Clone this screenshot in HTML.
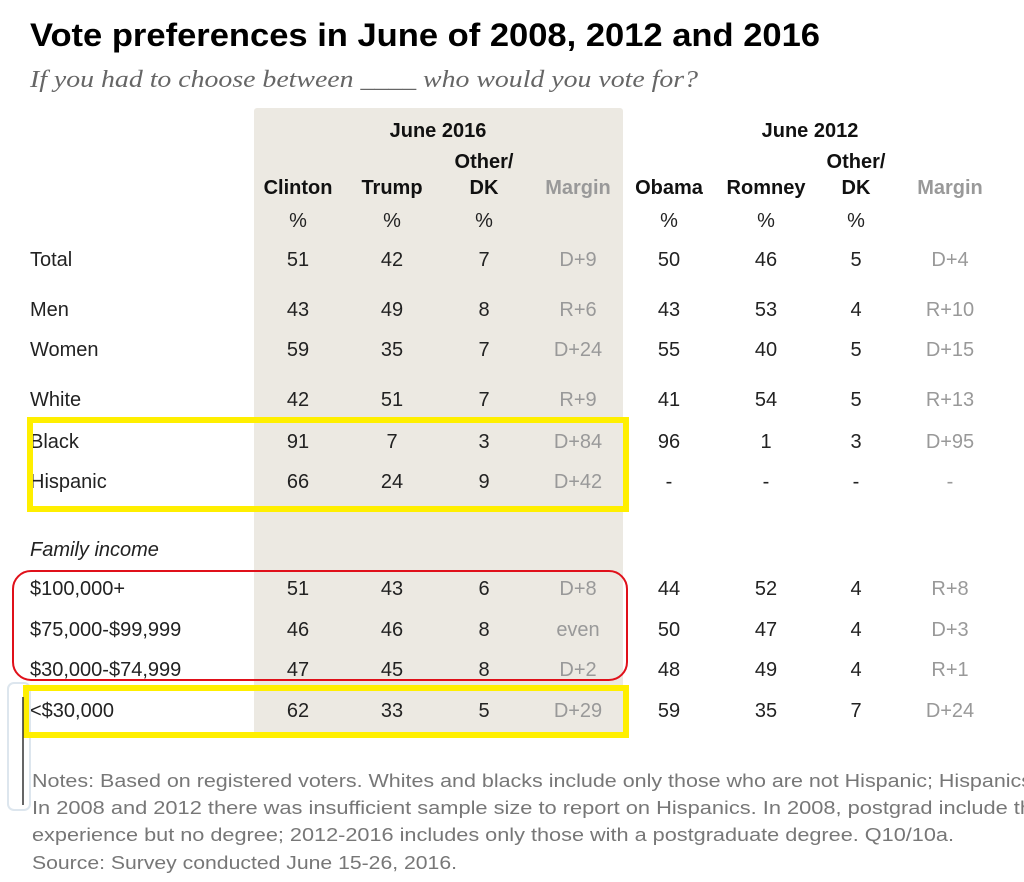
<!DOCTYPE html>
<html><head><meta charset="utf-8"><style>
html,body{margin:0;padding:0;background:#fff;}
svg{display:block;}
text{font-family:"Liberation Sans",sans-serif;}
.v{font-size:20px;fill:#222;text-anchor:middle;}
.m{font-size:20px;fill:#999;text-anchor:middle;}
.l{font-size:20px;fill:#222;}
.h{font-size:20px;font-weight:bold;fill:#111;text-anchor:middle;}
.n{font-size:18px;fill:#777;}
.sub{font-family:"Liberation Serif",serif;font-size:24px;font-style:italic;fill:#666;}
</style></head><body>
<svg width="1024" height="882" viewBox="0 0 1024 882">
<rect x="254" y="108" width="369" height="630" rx="3" fill="#ece9e2"/>
<rect x="8" y="683" width="22" height="127" rx="6" fill="none" stroke="#dde6ee" stroke-width="2"/>
<text x="30" y="46" font-size="32" font-weight="bold" fill="#000" textLength="790" lengthAdjust="spacingAndGlyphs">Vote preferences in June of 2008, 2012 and 2016</text>
<text class="sub" x="30" y="87" textLength="668" lengthAdjust="spacingAndGlyphs">If you had to choose between ____ who would you vote for?</text>
<text class="h" x="438" y="137">June 2016</text>
<text class="h" x="810" y="137">June 2012</text>
<text class="h" x="484" y="168">Other/</text>
<text class="h" x="856" y="168">Other/</text>
<text class="h" x="298" y="194">Clinton</text>
<text class="h" x="392" y="194">Trump</text>
<text class="h" x="484" y="194">DK</text>
<text class="h" x="578" y="194" style="fill:#999">Margin</text>
<text class="h" x="669" y="194">Obama</text>
<text class="h" x="766" y="194">Romney</text>
<text class="h" x="856" y="194">DK</text>
<text class="h" x="950" y="194" style="fill:#999">Margin</text>
<text class="v" x="298" y="227">%</text><text class="v" x="392" y="227">%</text><text class="v" x="484" y="227">%</text>
<text class="v" x="669" y="227">%</text><text class="v" x="766" y="227">%</text><text class="v" x="856" y="227">%</text>
<text class="l" x="30" y="266">Total</text>
<text class="v" x="298" y="266">51</text><text class="v" x="392" y="266">42</text><text class="v" x="484" y="266">7</text><text class="m" x="578" y="266">D+9</text>
<text class="v" x="669" y="266">50</text><text class="v" x="766" y="266">46</text><text class="v" x="856" y="266">5</text><text class="m" x="950" y="266">D+4</text>
<text class="l" x="30" y="316">Men</text>
<text class="v" x="298" y="316">43</text><text class="v" x="392" y="316">49</text><text class="v" x="484" y="316">8</text><text class="m" x="578" y="316">R+6</text>
<text class="v" x="669" y="316">43</text><text class="v" x="766" y="316">53</text><text class="v" x="856" y="316">4</text><text class="m" x="950" y="316">R+10</text>
<text class="l" x="30" y="356">Women</text>
<text class="v" x="298" y="356">59</text><text class="v" x="392" y="356">35</text><text class="v" x="484" y="356">7</text><text class="m" x="578" y="356">D+24</text>
<text class="v" x="669" y="356">55</text><text class="v" x="766" y="356">40</text><text class="v" x="856" y="356">5</text><text class="m" x="950" y="356">D+15</text>
<text class="l" x="30" y="406">White</text>
<text class="v" x="298" y="406">42</text><text class="v" x="392" y="406">51</text><text class="v" x="484" y="406">7</text><text class="m" x="578" y="406">R+9</text>
<text class="v" x="669" y="406">41</text><text class="v" x="766" y="406">54</text><text class="v" x="856" y="406">5</text><text class="m" x="950" y="406">R+13</text>
<text class="l" x="30" y="448">Black</text>
<text class="v" x="298" y="448">91</text><text class="v" x="392" y="448">7</text><text class="v" x="484" y="448">3</text><text class="m" x="578" y="448">D+84</text>
<text class="v" x="669" y="448">96</text><text class="v" x="766" y="448">1</text><text class="v" x="856" y="448">3</text><text class="m" x="950" y="448">D+95</text>
<text class="l" x="30" y="488">Hispanic</text>
<text class="v" x="298" y="488">66</text><text class="v" x="392" y="488">24</text><text class="v" x="484" y="488">9</text><text class="m" x="578" y="488">D+42</text>
<text class="v" x="669" y="488">-</text><text class="v" x="766" y="488">-</text><text class="v" x="856" y="488">-</text><text class="m" x="950" y="488">-</text>
<text class="l" x="30" y="556" font-style="italic" fill="#333">Family income</text>
<text class="l" x="30" y="595">$100,000+</text>
<text class="v" x="298" y="595">51</text><text class="v" x="392" y="595">43</text><text class="v" x="484" y="595">6</text><text class="m" x="578" y="595">D+8</text>
<text class="v" x="669" y="595">44</text><text class="v" x="766" y="595">52</text><text class="v" x="856" y="595">4</text><text class="m" x="950" y="595">R+8</text>
<text class="l" x="30" y="636">$75,000-$99,999</text>
<text class="v" x="298" y="636">46</text><text class="v" x="392" y="636">46</text><text class="v" x="484" y="636">8</text><text class="m" x="578" y="636">even</text>
<text class="v" x="669" y="636">50</text><text class="v" x="766" y="636">47</text><text class="v" x="856" y="636">4</text><text class="m" x="950" y="636">D+3</text>
<text class="l" x="30" y="676">$30,000-$74,999</text>
<text class="v" x="298" y="676">47</text><text class="v" x="392" y="676">45</text><text class="v" x="484" y="676">8</text><text class="m" x="578" y="676">D+2</text>
<text class="v" x="669" y="676">48</text><text class="v" x="766" y="676">49</text><text class="v" x="856" y="676">4</text><text class="m" x="950" y="676">R+1</text>
<text class="l" x="30" y="717">&lt;$30,000</text>
<text class="v" x="298" y="717">62</text><text class="v" x="392" y="717">33</text><text class="v" x="484" y="717">5</text><text class="m" x="578" y="717">D+29</text>
<text class="v" x="669" y="717">59</text><text class="v" x="766" y="717">35</text><text class="v" x="856" y="717">7</text><text class="m" x="950" y="717">D+24</text>
<rect x="30" y="420" width="596" height="89" fill="none" stroke="#ffef00" stroke-width="6"/>
<rect x="26" y="688" width="600" height="47" fill="none" stroke="#ffef00" stroke-width="6"/>
<rect x="13" y="571" width="614" height="109" rx="18" fill="none" stroke="#e0101a" stroke-width="2"/>
<line x1="23" y1="697" x2="23" y2="805" stroke="#333" stroke-width="1.5"/>
<text class="n" x="32" y="787" textLength="1000" lengthAdjust="spacingAndGlyphs">Notes: Based on registered voters. Whites and blacks include only those who are not Hispanic; Hispanics</text>
<text class="n" x="32" y="814" textLength="1000" lengthAdjust="spacingAndGlyphs">In 2008 and 2012 there was insufficient sample size to report on Hispanics. In 2008, postgrad include th</text>
<text class="n" x="32" y="841" textLength="922" lengthAdjust="spacingAndGlyphs">experience but no degree; 2012-2016 includes only those with a postgraduate degree. Q10/10a.</text>
<text class="n" x="32" y="869" textLength="425" lengthAdjust="spacingAndGlyphs">Source: Survey conducted June 15-26, 2016.</text>
</svg>
</body></html>
